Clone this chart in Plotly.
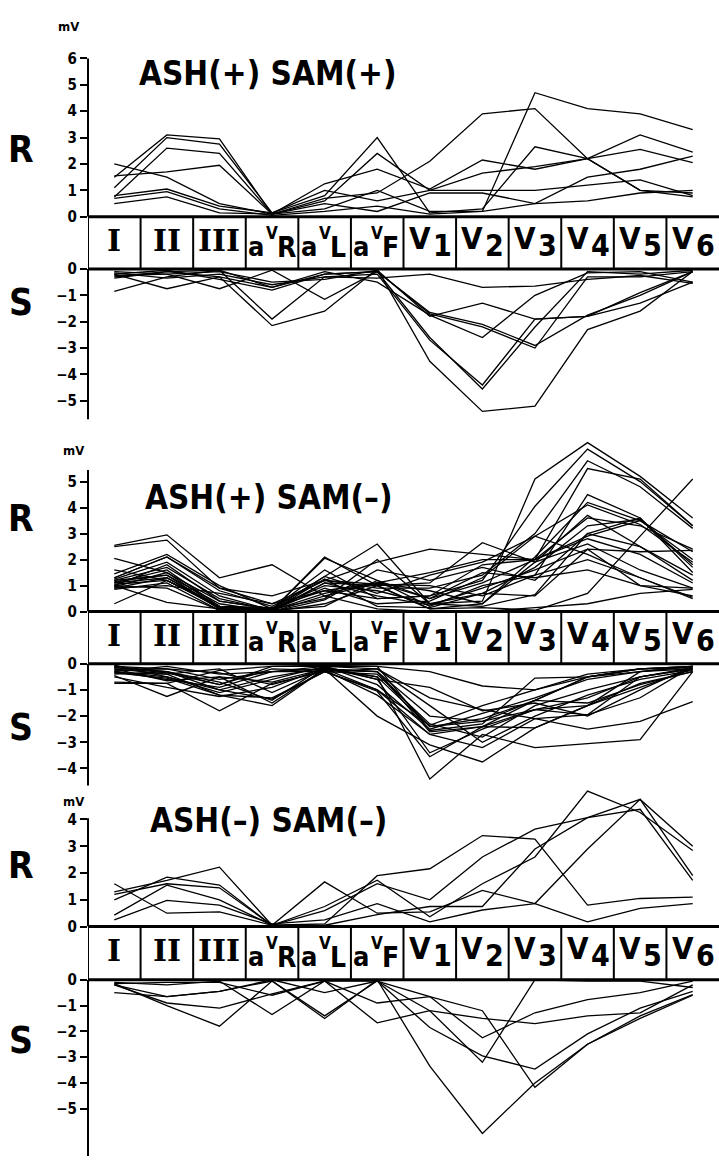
import plotly.graph_objects as go

W, H = 719, 1165

leads = ["I", "II", "III", "aVR", "aVL", "aVF", "V1", "V2", "V3", "V4", "V5", "V6"]

# ---- Panel 1: ASH(+) SAM(+) ----
p1_R = [
    [1.5, 3.1, 2.95, 0.1, 0.6, 2.4, 1.0, 1.65, 1.9, 2.2, 3.1, 2.45],
    [1.1, 3.0, 2.75, 0.15, 0.8, 3.0, 0.15, 0.3, 2.65, 2.2, 1.0, 0.75],
    [2.0, 1.5, 0.5, 0.1, 1.25, 1.8, 1.05, 2.15, 1.8, 2.2, 2.55, 2.05],
    [1.55, 1.7, 1.95, 0.1, 0.7, 0.9, 2.1, 3.9, 4.1, 2.2, 1.0, 0.9],
    [0.75, 2.6, 2.4, 0.1, 0.3, 1.0, 0.2, 0.2, 4.7, 4.1, 3.9, 3.3],
    [0.8, 1.05, 0.4, 0.15, 1.0, 0.6, 1.0, 1.0, 1.0, 1.2, 1.4, 0.8],
    [0.7, 0.95, 0.3, 0.05, 0.2, 0.4, 0.1, 0.2, 0.5, 0.6, 0.9, 1.0],
    [0.5, 0.75, 0.15, 0.1, 0.5, 0.2, 0.9, 0.9, 0.5, 1.5, 1.8, 2.3],
]
p1_S = [
    [-0.35, -0.1, -0.3, -0.7, -0.2, -0.1, -1.65, -2.1, -2.9, -1.75, -1.0, -0.1],
    [-0.2, -0.75, -0.3, -2.15, -1.6, 0.0, -3.5, -5.4, -5.2, -2.3, -1.6, -0.1],
    [-0.85, -0.3, -0.05, -1.9, -0.3, -0.2, -2.7, -4.4, -1.9, -1.8, -1.3, -0.5],
    [-0.1, -0.2, -0.75, -0.05, -1.15, -0.1, -2.6, -4.55, -2.2, -0.1, -0.2, -0.05],
    [-0.3, -0.1, -0.05, -0.7, -0.1, -0.5, -1.75, -2.6, -1.0, -0.15, -0.1, -0.5],
    [-0.15, -0.35, -0.2, -0.6, -0.3, -0.35, -0.2, -0.7, -0.65, -0.4, -0.25, -0.55],
    [-0.2, -0.05, -0.4, -0.8, -0.2, -0.1, -1.7, -2.2, -3.0, -0.3, -0.3, -0.1],
    [-0.25, -0.2, -0.1, -0.5, -0.4, -0.05, -1.8, -1.3, -1.9, -1.8, -0.9, -0.1],
]

# ---- Panel 2: ASH(+) SAM(-) ----
p2_R = [
    [2.55, 2.95, 1.3, 1.8, 0.6, 1.1, 1.5, 2.0, 2.0, 2.9, 3.5, 2.3],
    [2.5, 2.75, 0.9, 0.3, 1.2, 1.9, 2.4, 2.2, 2.0, 5.5, 5.1, 3.3],
    [2.05, 1.5, 0.4, 0.1, 1.35, 2.6, 0.3, 0.4, 5.1, 6.5, 5.2, 3.6],
    [1.6, 1.2, 0.2, 0.05, 2.1, 1.0, 1.1, 2.65, 1.9, 3.7, 2.5, 1.2],
    [1.45, 2.2, 1.0, 0.1, 1.6, 0.5, 0.6, 1.2, 4.05, 6.25, 5.0, 3.3],
    [1.3, 2.1, 0.8, 0.2, 1.2, 0.9, 0.9, 1.4, 3.0, 5.8, 4.8, 3.2],
    [1.25, 1.9, 0.6, 0.05, 2.05, 1.2, 0.2, 1.0, 1.4, 4.5, 3.6, 1.7],
    [1.2, 1.7, 0.5, 0.05, 0.7, 1.1, 0.8, 0.3, 2.1, 4.2, 3.5, 2.0],
    [1.15, 1.4, 0.3, 0.0, 1.1, 1.0, 0.1, 0.15, 0.05, 0.7, 2.9, 5.1],
    [1.1, 1.3, 0.1, 0.0, 0.45, 1.6, 1.2, 1.7, 1.2, 3.0, 3.6, 1.5],
    [1.1, 1.6, 0.2, 0.15, 0.8, 0.5, 0.6, 1.8, 2.0, 3.6, 3.3, 2.4],
    [1.05, 1.2, 0.15, 0.05, 1.25, 0.2, 0.15, 0.7, 0.6, 2.4, 2.3, 2.35],
    [1.0, 0.9, 0.05, 0.0, 0.3, 1.0, 0.1, 0.3, 1.9, 2.6, 1.6, 0.9],
    [0.3, 1.2, 0.2, 0.1, 1.35, 0.7, 1.4, 1.9, 2.9, 2.2, 1.3, 0.5],
    [1.0, 0.35, 0.1, 0.05, 0.2, 1.2, 0.5, 1.5, 1.3, 1.6, 1.0, 0.6],
    [0.95, 1.5, 0.15, 0.1, 1.0, 0.8, 0.3, 0.7, 1.7, 3.3, 3.55, 1.8],
    [0.9, 1.0, 0.7, 0.3, 0.8, 1.1, 0.5, 1.1, 2.0, 2.8, 2.2, 1.1],
    [0.85, 1.1, 0.05, 0.0, 0.6, 0.1, 0.0, 0.0, 0.15, 0.3, 0.7, 0.85],
    [1.3, 2.1, 0.9, 0.6, 1.2, 1.05, 1.0, 0.6, 1.4, 2.0, 1.3, 0.55],
    [1.2, 1.4, 0.1, 0.05, 0.9, 0.3, 0.4, 1.3, 2.9, 4.1, 3.35, 1.9],
    [1.0, 1.8, 0.4, 0.1, 0.5, 2.0, 0.3, 0.2, 0.65, 3.0, 2.5, 1.4],
    [0.9, 1.3, 0.2, 0.05, 1.1, 0.6, 0.25, 0.9, 1.6, 2.4, 1.0, 0.9],
]
p2_S = [
    [-0.3, -0.6, -0.9, -0.3, -0.2, -0.5, -2.4, -2.2, -1.4, -0.5, -0.2, -0.1],
    [-0.45, -1.25, -0.5, -1.5, -0.2, -0.3, -2.6, -2.4, -1.75, -1.6, -0.75, -0.3],
    [-0.75, -0.75, -1.8, -0.75, -0.3, -1.0, -2.7, -3.2, -2.1, -1.95, -0.5, -0.2],
    [-0.2, -0.4, -1.2, -1.6, -0.2, -2.0, -3.1, -3.75, -2.45, -1.6, -0.9, -0.2],
    [-0.1, -0.3, -1.0, -0.5, -0.15, -0.5, -4.4, -2.7, -3.2, -3.05, -2.9, -0.3],
    [-0.35, -0.55, -1.2, -1.3, -0.3, -1.05, -3.55, -2.4, -1.4, -0.5, -0.3, -0.1],
    [-0.25, -0.2, -0.6, -0.3, -0.1, -0.2, -1.3, -1.75, -2.1, -2.5, -2.2, -1.45],
    [-0.15, -0.35, -0.8, -0.2, -0.25, -0.3, -2.0, -2.2, -1.75, -1.3, -0.5, -0.15],
    [-0.7, -0.75, -0.25, -0.1, -0.05, -0.1, -0.3, -0.85, -1.0, -0.5, -0.2, -0.1],
    [-0.05, -0.5, -1.0, -1.35, -0.3, -0.4, -2.3, -2.8, -1.6, -1.0, -0.5, -0.2],
    [-0.3, -0.5, -1.1, -0.6, -0.1, -0.8, -2.5, -1.9, -1.3, -0.6, -0.3, -0.2],
    [-0.1, -0.2, -0.35, -0.8, -0.25, -1.2, -2.7, -2.4, -2.45, -1.6, -0.3, -0.1],
    [-0.4, -0.3, -0.8, -0.1, -0.1, -0.6, -3.4, -2.5, -1.75, -1.95, -1.3, -0.1],
    [-0.2, -0.65, -0.5, -0.7, -0.2, -1.0, -2.35, -1.6, -1.0, -0.4, -0.2, -0.2],
    [-0.3, -0.1, -0.4, -0.3, -0.3, -0.2, -1.6, -3.0, -2.0, -1.2, -0.6, -0.25],
    [-0.35, -0.4, -0.2, -1.1, -0.2, -0.3, -2.4, -2.1, -1.4, -1.5, -0.8, -0.3],
    [-0.5, -0.9, -1.25, -0.9, -0.15, -0.6, -0.9, -1.8, -1.5, -2.0, -1.0, -0.1],
    [-0.15, -0.3, -0.7, -1.4, -0.1, -0.1, -2.55, -2.3, -0.55, -0.5, -0.2, -0.1],
]

# ---- Panel 3: ASH(-) SAM(-) ----
p3_R = [
    [1.3, 1.73, 2.22, 0.05, 0.1, 1.9, 2.16, 3.4, 3.27, 0.8, 1.05, 1.1],
    [1.6, 0.5, 0.55, 0.05, 1.67, 0.5, 0.55, 1.35, 0.86, 0.18, 0.68, 0.86],
    [1.0, 1.85, 1.55, 0.05, 0.6, 1.6, 1.0, 2.6, 3.64, 4.07, 4.38, 1.73],
    [1.2, 1.6, 1.45, 0.05, 0.75, 1.73, 0.37, 1.6, 2.6, 5.06, 4.26, 2.84],
    [0.25, 0.98, 0.8, 0.1, 0.25, 0.86, 0.18, 0.62, 0.86, 2.9, 4.75, 3.0],
    [0.43, 1.55, 1.0, 0.05, 0.05, 0.45, 0.75, 0.75, 2.9, 4.07, 4.75, 1.9],
]
p3_S = [
    [-0.2, -0.65, -0.45, 0.0, -0.5, -0.05, -1.85, -2.95, -3.46, -2.1, -1.1, -0.45],
    [-0.5, -0.65, -0.45, -0.05, -1.5, 0.0, -3.35, -5.96, -4.0, -2.5, -1.4, -0.58],
    [-0.15, -1.0, -1.8, -0.05, -1.4, -0.05, -1.2, -3.2, 0.0, -0.05, -0.05, -0.3],
    [-0.2, -0.9, -1.1, -0.55, -0.05, -1.67, -1.2, -1.5, -1.7, -1.4, -1.28, -0.2],
    [-0.1, -0.2, -0.05, -1.35, -0.05, -0.9, -0.65, -1.2, -4.17, -2.5, -1.5, -0.6],
    [-0.15, -0.1, -0.1, -0.6, -0.05, -0.05, -0.65, -2.25, -1.28, -0.77, -0.5, -0.05],
]

titles = ["ASH(+) SAM(+)", "ASH(+) SAM(-)", "ASH(-) SAM(-)"]
r_ticks = [[0, 1, 2, 3, 4, 5, 6], [0, 1, 2, 3, 4, 5], [0, 1, 2, 3, 4]]
s_ticks = [[0, -1, -2, -3, -4, -5], [0, -1, -2, -3, -4], [0, -1, -2, -3, -4, -5]]

# ---- layout geometry (pixels) ----
geo = [
    dict(zR=211, kR=26.8, topR=40, axR=6.0, zS=264, kS=26.8, botS=420, axS=-5.7,
         mv=18, mvx=68, Ry=143, Sy=298, ty=66),
    dict(zR=612, kR=26.4, topR=435, axR=5.45, zS=665, kS=26.6, botS=792, axS=-4.65,
         mv=448, mvx=73, Ry=518, Sy=730, ty=496),
    dict(zR=932, kR=27.2, topR=793, axR=4.05, zS=986, kS=26.2, botS=1165, axS=-6.9,
         mv=805, mvx=73, Ry=870, Sy=1048, ty=824),
]
X0 = 88  # pixel x of axes

def P(py):
    return 1 - py / H

SANS = "DejaVu Sans Condensed, Liberation Sans Narrow, DejaVu Sans"
SERIF = "DejaVu Serif, Liberation Serif"

fig = go.Figure()
layout = dict(
    width=W, height=H, margin=dict(l=0, r=0, t=0, b=0),
    paper_bgcolor="white", plot_bgcolor="rgba(0,0,0,0)", showlegend=False,
    xaxis=dict(domain=[X0 / W, 1], range=[-0.5, 11.5], visible=False,
               type="category", categoryorder="array", categoryarray=leads),
)
shapes, annotations = [], []

panels = [(p1_R, p1_S), (p2_R, p2_S), (p3_R, p3_S)]
for pi, ((Rs, Ss), g) in enumerate(zip(panels, geo)):
    ya_r = 2 * pi + 1
    ya_s = 2 * pi + 2
    nr = "y" if ya_r == 1 else f"y{ya_r}"
    ns = f"y{ya_s}"
    for tr in Rs:
        fig.add_trace(go.Scatter(x=leads, y=tr, mode="lines", xaxis="x", yaxis=nr,
                                 line=dict(color="black", width=1.3), hoverinfo="skip"))
    for tr in Ss:
        fig.add_trace(go.Scatter(x=leads, y=tr, mode="lines", xaxis="x", yaxis=ns,
                                 line=dict(color="black", width=1.3), hoverinfo="skip"))
    tickfont = dict(family=SANS, size=15, color="black", weight="bold")
    common = dict(anchor="x", showgrid=False, zeroline=False, showline=False,
                  ticks="outside", ticklen=7, tickwidth=2, tickcolor="black",
                  tickfont=tickfont)
    rmax = (g["zR"] - g["topR"]) / g["kR"]
    layout[f"yaxis{'' if ya_r == 1 else ya_r}"] = dict(
        domain=[P(g["zR"]), P(g["topR"])], range=[0, rmax],
        tickvals=r_ticks[pi], ticktext=[str(v) for v in r_ticks[pi]], **common)
    smin = -(g["botS"] - g["zS"]) / g["kS"]
    layout[f"yaxis{ya_s}"] = dict(
        domain=[P(g["botS"]), P(g["zS"])], range=[smin, 0],
        tickvals=s_ticks[pi],
        ticktext=[("0" if v == 0 else "\u2212" + str(-v)) for v in s_ticks[pi]], **common)

    # axis lines
    shapes.append(dict(type="line", xref="paper", yref=nr, x0=X0 / W, x1=X0 / W,
                       y0=0, y1=g["axR"], line=dict(color="black", width=2)))
    shapes.append(dict(type="line", xref="paper", yref=ns, x0=X0 / W, x1=X0 / W,
                       y0=0, y1=g["axS"], line=dict(color="black", width=2)))
    # lead band
    yt, yb = P(g["zR"]), P(g["zS"])
    for yy in (yt, yb):
        shapes.append(dict(type="line", xref="x", yref="paper", x0=-0.5, x1=11.5,
                           y0=yy, y1=yy, line=dict(color="black", width=3)))
    for b in [-0.5 + k for k in range(12)]:
        shapes.append(dict(type="line", xref="x", yref="paper", x0=b, x1=b,
                           y0=yb, y1=yt, line=dict(color="black", width=2)))
    ztop = g["zR"]

    def ann(text, xcat, dx, py, size, family=SANS, weight="bold", xanchor="center"):
        annotations.append(dict(text=text, xref="x", yref="paper", x=xcat, y=P(py),
                                xshift=dx, showarrow=False, xanchor=xanchor, yanchor="middle",
                                borderpad=0,
                                font=dict(family=family, size=size, color="black", weight=weight)))

    for i, ld in enumerate(leads):
        if ld in ("I", "II", "III"):
            ann(ld, ld, 0, ztop + 24, 30, SERIF)
        elif ld.startswith("aV"):
            ann("a", ld, -7, ztop + 30, 27, xanchor="right")
            ann("V", ld, -7, ztop + 17, 17, xanchor="left")
            ann(ld[2], ld, 4, ztop + 31, 28, xanchor="left")
        else:
            ann("V", ld, 2, ztop + 22, 31, xanchor="right")
            ann(ld[1], ld, 2, ztop + 29, 30, xanchor="left")

    plus = '<span style="font-size:16px">+</span>'
    ttl = titles[pi].replace("+", plus).replace("-", "\u2013")
    annotations.append(dict(text=ttl, xref="paper", yref="paper", x=268 / W, y=P(g["ty"]),
                            showarrow=False, xanchor="center", yanchor="middle",
                            font=dict(family=SANS, size=33, color="black", weight="bold")))
    annotations.append(dict(text="mV", xref="paper", yref="paper", x=g["mvx"] / W, y=P(g["mv"]),
                            showarrow=False, xanchor="center", yanchor="middle",
                            font=dict(family=SANS, size=13, color="black", weight="bold")))
    for lab, py in (("R", g["Ry"]), ("S", g["Sy"])):
        annotations.append(dict(text=lab, xref="paper", yref="paper", x=21 / W, y=P(py),
                                showarrow=False, xanchor="center", yanchor="middle",
                                font=dict(family=SANS, size=37, color="black", weight="bold")))

layout["shapes"] = shapes
layout["annotations"] = annotations
fig.update_layout(**layout)
fig.write_html("out.html", config={"displayModeBar": False},
               post_script="document.body.style.margin='0';document.body.style.overflow='hidden';")
